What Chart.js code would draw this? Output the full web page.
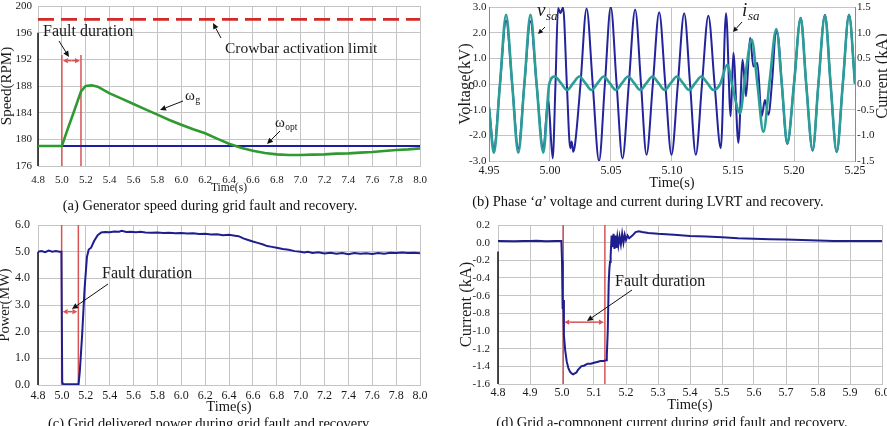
<!DOCTYPE html>
<html><head><meta charset="utf-8">
<script src="https://cdn.jsdelivr.net/npm/chart.js@4.4.1/dist/chart.umd.min.js"></script>
<style>
html,body{margin:0;padding:0;background:#fff;width:887px;height:426px;overflow:hidden;position:relative}
canvas{position:absolute}
.cap{position:absolute;width:560px;text-align:center;font-family:'Liberation Serif','Times New Roman',serif;font-size:14.5px;line-height:16px;color:#111;white-space:nowrap}
</style></head><body>
<canvas id="ca" width="440" height="200" style="left:0;top:0"></canvas>
<canvas id="cb" width="447" height="200" style="left:440px;top:0"></canvas>
<canvas id="cc" width="440" height="216" style="left:0;top:210px"></canvas>
<canvas id="cd" width="447" height="216" style="left:440px;top:210px"></canvas>
<div class="cap" style="left:-70px;top:197px">(a) Generator speed during grid fault and recovery.</div>
<div class="cap" style="left:368px;top:193px">(b) Phase ‘<i>a</i>’ voltage and current during LVRT and recovery.</div>
<div class="cap" style="left:-70px;top:415px">(c) Grid delivered power during grid fault and recovery.</div>
<div class="cap" style="left:392px;top:414px">(d) Grid a-component current during grid fault and recovery.</div>
<script>
// ---------- (a) generator speed ----------
const speedTime = [4.8,5.0,5.05,5.1,5.16,5.2,5.25,5.3,5.4,5.5,5.6,5.7,5.8,5.9,6.0,6.1,6.2,6.3,6.4,6.5,6.6,6.7,6.8,6.9,7.0,7.1,7.2,7.3,7.4,7.5,7.6,7.7,7.8,7.9,8.0];
const speedRPM  = [179,179,181.6,184.1,187.2,188.0,188.1,187.9,186.9,186.1,185.3,184.5,183.7,182.9,182.2,181.5,180.9,180.1,179.35,178.75,178.3,177.95,177.75,177.65,177.65,177.7,177.75,177.85,177.9,178.0,178.1,178.25,178.4,178.5,178.65];
const optTime = [4.8, 8.0];
const optRPM  = [179, 179];
const limitTime = [4.8, 8.0];
const limitRPM  = [198, 198];
const faultA = [5.0, 5.16];
const faultMarkA = [192.65, 191.8];   // top of fault lines, double-arrow level
const speedXTicks = [4.8,5.0,5.2,5.4,5.6,5.8,6.0,6.2,6.4,6.6,6.8,7.0,7.2,7.4,7.6,7.8,8.0];
const speedYTicks = [176,180,184,188,192,196,200];

// ---------- (b) phase a voltage / current ----------
const vTime = [4.950,4.954,4.959,4.964,4.969,4.974,4.979,4.984,4.989,4.9945,4.9994,
  5.004,5.009,5.014,5.019,5.024,5.029,5.034,5.039,5.044,5.049,5.054,5.059,5.064,5.069,5.074,5.079,5.084,5.089,5.094,5.099,5.104,5.109,5.114,5.119,5.124,5.129,5.134,
  5.1395,5.1453,5.150,5.1557,5.160,5.1653,5.170,5.1749,5.180,5.1855,5.190,5.1945,5.200,5.2055,5.210,5.2153,5.220,5.2254,5.230,5.235,5.240,5.2451,5.250];
const vKV = [-0.9,-2.68,0,2.7,0,-2.68,0,2.7,0,-2.68,0,
  0.29,0.03,-0.23,0.03,0.29,0.03,-0.23,0.03,0.29,0.03,-0.23,0.03,0.29,0.03,-0.23,0.03,0.29,0.03,-0.23,0.03,0.29,0.03,-0.23,0.03,0.29,0.03,-0.23,
  0.0,0.75,-0.2,-1.14,0.3,1.73,0,-1.86,0.1,2.14,0,-2.31,0,2.57,0,-2.57,0,2.68,0,-2.64,0,2.7,0];
const iTime = [4.950,4.954,4.959,4.964,4.969,4.974,4.979,4.984,4.989,4.9945,4.9985,5.0022,5.0045,5.0066,5.0085,5.0107,5.0138,5.0166,5.0178,5.0190,5.0205,5.0250,5.0300,5.0350,5.0402,5.0450,5.0498,5.0546,5.0594,5.0646,5.0698,5.0746,5.0791,5.0843,5.0895,5.0945,5.0996,5.1048,5.1100,5.1148,5.1195,5.1246,5.1298,5.1349,5.1400,5.1443,5.1481,5.1503,5.1544,5.1579,5.1607,5.1640,5.1667,5.1700,5.1735,5.1762,5.1790,5.1822,5.1852,5.1872,5.1900,5.1945,5.2000,5.2055,5.2100,5.2153,5.2200,5.2254,5.2300,5.2350,5.2400,5.2451,5.2500];
const iKA = [-0.45,-1.25,0,1.23,0,-1.26,0,1.22,0,-1.27,-0.3,-1.45,0,1.48,1.38,1.49,0,-1.25,-1.12,-1.32,-1.18,0,1.47,0,-1.5,0,1.5,0,-1.45,0,1.45,0,-1.38,0,1.40,0,-1.38,0,1.38,0,-1.38,0,1.33,0,-1.25,1.38,-0.63,0.61,-1.15,0.47,-0.24,0.9,0.34,0.41,-0.63,-0.31,-0.6,0.1,1.03,0.9,0,-1.17,0,1.29,0,-1.3,0,1.35,0,-1.33,0,1.35,0];
const phaseXTicks = [4.95,5.00,5.05,5.10,5.15,5.20,5.25];
const voltTicks = [-3,-2,-1,0,1,2,3];
const currTicks = [-1.5,-1.0,-0.5,0,0.5,1.0,1.5];

// ---------- (c) grid power ----------
const pTime = [4.80,4.83,4.86,4.89,4.92,4.95,4.98,4.996,5.003,5.01,5.05,5.10,5.14,5.15,5.17,5.19,5.21,5.225,5.245,5.27,5.30,5.33,5.36,5.40,5.44,5.48,5.50,5.54,5.58,5.62,5.66,5.70,5.75,5.80,5.85,5.90,5.95,6.00,6.05,6.10,6.15,6.20,6.25,6.30,6.35,6.40,6.45,6.48,6.52,6.56,6.60,6.64,6.68,6.72,6.76,6.80,6.85,6.90,6.95,7.00,7.03,7.06,7.10,7.15,7.20,7.25,7.30,7.35,7.40,7.45,7.50,7.55,7.60,7.65,7.70,7.75,7.80,7.85,7.90,7.95,8.00];
const pMW = [5.00,5.02,4.98,5.04,5.00,5.02,5.00,5.00,0.10,0.04,0.03,0.03,0.04,0.50,1.90,3.60,4.80,5.08,5.15,5.40,5.62,5.72,5.74,5.73,5.76,5.75,5.78,5.74,5.75,5.73,5.75,5.72,5.71,5.72,5.70,5.71,5.69,5.70,5.68,5.69,5.66,5.67,5.64,5.65,5.62,5.63,5.60,5.58,5.50,5.44,5.38,5.33,5.28,5.21,5.18,5.15,5.10,5.07,5.02,5.00,4.97,5.00,4.95,4.98,4.93,4.96,4.92,4.95,4.90,4.95,4.92,4.94,4.91,4.95,4.92,4.96,4.95,4.97,4.95,4.96,4.94];
const faultC = [4.998, 5.138];
const faultMarkC = 2.75;
const powerXTicks = [4.8,5.0,5.2,5.4,5.6,5.8,6.0,6.2,6.4,6.6,6.8,7.0,7.2,7.4,7.6,7.8,8.0];
const powerYTicks = [0,1,2,3,4,5,6];

// ---------- (d) grid a-component current ----------
const cTime = [4.80,4.85,4.88,4.90,4.92,4.95,4.98,4.998,5.000,5.002,5.004,5.006,5.010,5.015,5.020,5.025,5.030,5.035,5.040,5.045,5.050,5.055,5.060,5.070,5.080,5.090,5.100,5.110,5.120,5.130,5.138,5.140,5.143,5.146,5.148,5.150,5.152,5.155,5.158,5.161,5.164,5.167,5.170,5.173,5.176,5.180,5.184,5.188,5.192,5.196,5.200,5.205,5.210,5.220,5.230,5.240,5.250,5.270,5.300,5.350,5.400,5.450,5.500,5.550,5.600,5.650,5.700,5.750,5.800,5.850,5.900,5.950,6.000];
const cKA = [0.02,0.015,0.02,0.018,0.022,0.015,0.02,0.02,-0.2,-0.75,-0.65,-1.05,-1.22,-1.35,-1.42,-1.46,-1.48,-1.49,-1.48,-1.47,-1.44,-1.42,-1.40,-1.39,-1.37,-1.37,-1.36,-1.35,-1.34,-1.34,-1.33,-1.28,-1.0,-0.45,-0.3,-0.22,-0.15,0.08,-0.05,0.1,-0.07,0.08,-0.06,0.06,-0.03,0.07,-0.02,0.1,0.0,0.09,0.03,0.08,0.05,0.08,0.12,0.13,0.12,0.11,0.1,0.09,0.075,0.07,0.06,0.05,0.045,0.04,0.035,0.03,0.025,0.02,0.02,0.018,0.02];
const faultD = [5.004, 5.134];
const faultMarkD = -0.9;
const currXTicks = [4.8,4.9,5.0,5.1,5.2,5.3,5.4,5.5,5.6,5.7,5.8,5.9,6.0];
const currYTicks = [-1.6,-1.4,-1.2,-1.0,-0.8,-0.6,-0.4,-0.2,0,0.2];

// ================= helpers =================
const FONT = "'Liberation Serif','Times New Roman',serif";
const GRID = '#c4c4c4';
const TXT = '#1a1a1a';
const RED = '#d85454';
Chart.defaults.font.family = FONT;

function pts(xs, ys){ return xs.map((x,i)=>({x:x, y:ys[i]})); }
function xScale(o){
  return {
    type:'linear', position:'bottom', min:o.min, max:o.max,
    afterBuildTicks: s=>{ s.ticks = o.ticks.map(v=>({value:v})); },
    afterFit: s=>{ s.height=o.h; s.paddingLeft=0; s.paddingRight=0; s.paddingTop=0; s.paddingBottom=0; },
    ticks:{ autoSkip:false, maxRotation:0, minRotation:0, padding:o.pad, color:TXT,
      font:{family:FONT,size:o.fs}, callback:v=>Number(v).toFixed(o.dec) },
    grid:{ color:GRID, lineWidth:1, drawTicks:false },
    border:{ color:GRID, width:1 },
    title:{ display:true, text:'Time(s)', color:TXT, font:{family:FONT,size:o.ts,lineHeight:1},
      padding:{top:0,bottom:o.tpb} }
  };
}
function yScale(o){
  return {
    type:'linear', position:o.pos||'left', min:o.min, max:o.max,
    afterBuildTicks: s=>{ s.ticks = o.ticks.map(v=>({value:v})); },
    afterFit: s=>{ s.width=o.w; s.paddingLeft=0; s.paddingRight=0; s.paddingTop=0; s.paddingBottom=0; },
    ticks:{ autoSkip:false, padding:o.pad, color:TXT, font:{family:FONT,size:o.fs},
      callback:v=>Number(v).toFixed(o.dec) },
    grid:{ display:o.grid!==false, color:GRID, lineWidth:1, drawTicks:false },
    border:{ color:o.border||GRID, width:1 },
    title:{ display:!!o.title, text:o.title||'', color:TXT, font:{family:FONT,size:o.ts,lineHeight:1},
      padding:{top:o.tpt||0,bottom:0} }
  };
}
function line(data, color, width, extra){
  return Object.assign({ data:data, borderColor:color, borderWidth:width, pointRadius:0,
    fill:false, tension:0 }, extra||{});
}
function arrow(ctx,x1,y1,x2,y2,color,lw,hl,hw){
  const a=Math.atan2(y2-y1,x2-x1);
  const bx=x2-hl*Math.cos(a), by=y2-hl*Math.sin(a);
  ctx.save(); ctx.strokeStyle=color; ctx.fillStyle=color; ctx.lineWidth=lw;
  ctx.beginPath(); ctx.moveTo(x1,y1); ctx.lineTo(bx,by); ctx.stroke();
  ctx.beginPath(); ctx.moveTo(x2,y2);
  ctx.lineTo(bx+hw*Math.sin(a), by-hw*Math.cos(a));
  ctx.lineTo(bx-hw*Math.sin(a), by+hw*Math.cos(a));
  ctx.closePath(); ctx.fill(); ctx.restore();
}
function dblArrow(ctx,x1,x2,y){
  const m=(x1+x2)/2;
  arrow(ctx,m,y,x1+1,y,RED,1.5,5,2.6);
  arrow(ctx,m,y,x2-1,y,RED,1.5,5,2.6);
}
function vline(ctx,x,y1,y2,color,w){
  ctx.save(); ctx.strokeStyle=color; ctx.lineWidth=w;
  ctx.beginPath(); ctx.moveTo(x,y1); ctx.lineTo(x,y2); ctx.stroke(); ctx.restore();
}
function text(ctx,s,x,y,size,style){
  ctx.save(); ctx.fillStyle=TXT; ctx.font=(style||'')+' '+size+'px '+FONT;
  ctx.textBaseline='middle'; ctx.textAlign='left'; ctx.fillText(s,x,y);
  const w=ctx.measureText(s).width; ctx.restore(); return w;
}
function subText(ctx,main,sub,x,y,size,subSize,style,dy){
  const w=text(ctx,main,x,y,size,style);
  text(ctx,sub,x+w+0.5,y+(dy||4),subSize,style);
}
const base = { responsive:false, animation:false, devicePixelRatio:1,
  plugins:{ legend:{display:false}, tooltip:{enabled:false} }, events:[] };

// ================= chart (a) =================
new Chart(document.getElementById('ca'), {
  type:'line',
  data:{ datasets:[
    line(pts(speedTime,speedRPM),'#2f9a2f',2.6),
    line(pts(optTime,optRPM),'#1c1ca6',2),
    line(pts(limitTime,limitRPM),'#d42a2a',2.6,{borderDash:[16,7]})
  ]},
  options:Object.assign({}, base, {
    layout:{ autoPadding:false, padding:{top:6,right:20,left:0,bottom:0} },
    scales:{
      x: xScale({min:4.8,max:8.0,ticks:speedXTicks,dec:1,h:34,pad:8,fs:11,ts:11.5,tpb:6}),
      y: yScale({min:176,max:200,ticks:speedYTicks,dec:0,w:38,pad:6,fs:11,title:'Speed(RPM)',ts:15,tpt:0})
    }
  }),
  plugins:[{ id:'annA',
    beforeDatasetsDraw(ch){
      const {ctx, scales:{x,y}, chartArea:ca} = ch;
      faultA.forEach(t=>vline(ctx,x.getPixelForValue(t),y.getPixelForValue(faultMarkA[0]),y.getPixelForValue(176),RED,1.5));
      vline(ctx,ca.left,y.getPixelForValue(196),ca.bottom,'#111',1.5);
    },
    afterDatasetsDraw(ch){
      const {ctx, scales:{x,y}} = ch;
      dblArrow(ctx,x.getPixelForValue(faultA[0]),x.getPixelForValue(faultA[1]),y.getPixelForValue(faultMarkA[1]));
      text(ctx,'Fault duration',43,32,16);
      arrow(ctx,59,41,69,57,'#111',1,6,2.8);
      text(ctx,'Crowbar activation limit',225,49,15.5);
      arrow(ctx,221,38,213,23,'#111',1,6,2.8);
      subText(ctx,'ω','g',185,96,15,10,'',4);
      arrow(ctx,183,101,160,110,'#111',1,6,2.8);
      subText(ctx,'ω','opt',275,123,15,9.5,'',4);
      arrow(ctx,280,131,267,144,'#111',1,6,2.8);
    }
  }]
});

// ================= chart (b) =================
new Chart(document.getElementById('cb'), {
  type:'line',
  data:{ datasets:[
    line(pts(vTime,vKV),'#2c9e98',2.6,{cubicInterpolationMode:'monotone',yAxisID:'y'}),
    line(pts(iTime,iKA),'#23239c',2,{cubicInterpolationMode:'monotone',yAxisID:'y1'})
  ]},
  options:Object.assign({}, base, {
    layout:{ autoPadding:false, padding:{top:7,right:0,left:0,bottom:0} },
    scales:{
      x: xScale({min:4.95,max:5.25,ticks:phaseXTicks,dec:2,h:39,pad:3,fs:12,ts:14.5,tpb:10}),
      y: yScale({min:-3,max:3,ticks:voltTicks,dec:1,w:49,pad:2.5,fs:11,title:'Voltage(kV)',ts:16.5,tpt:17.5,border:'#8a8a8a'}),
      y1: yScale({pos:'right',min:-1.5,max:1.5,ticks:currTicks,dec:1,w:32,pad:2,fs:11,grid:false,border:'#8a8a8a'})
    }
  }),
  plugins:[{ id:'annB',
    afterDatasetsDraw(ch){
      const {ctx} = ch;
      text(ctx,'v',97,11,19,'italic');
      text(ctx,'sa',106,17,13,'italic');
      arrow(ctx,105,27,98,34,'#111',1,5,2.5);
      text(ctx,'i',302,11,19,'italic');
      text(ctx,'sa',308,17,13,'italic');
      arrow(ctx,302,22,293,32,'#111',1,5,2.5);
      ctx.save(); ctx.translate(443,76); ctx.rotate(-Math.PI/2);
      ctx.fillStyle=TXT; ctx.font='16.5px '+FONT; ctx.textAlign='center'; ctx.textBaseline='middle';
      ctx.fillText('Current (kA)',0,0); ctx.restore();
    }
  }]
});

// ================= chart (c) =================
new Chart(document.getElementById('cc'), {
  type:'line',
  data:{ datasets:[ line(pts(pTime,pMW),'#1e1e8e',2) ]},
  options:Object.assign({}, base, {
    layout:{ autoPadding:false, padding:{top:15,right:20,left:0,bottom:0} },
    scales:{
      x: xScale({min:4.8,max:8.0,ticks:powerXTicks,dec:1,h:41,pad:4,fs:12,ts:14.5,tpb:12}),
      y: yScale({min:0,max:6,ticks:powerYTicks,dec:1,w:38,pad:8,fs:12,title:'Power(MW)',ts:14.5,tpt:-2})
    }
  }),
  plugins:[{ id:'annC',
    beforeDatasetsDraw(ch){
      const {ctx, scales:{x,y}, chartArea:ca} = ch;
      faultC.forEach(t=>vline(ctx,x.getPixelForValue(t),ca.top,ca.bottom,RED,1.5));
      vline(ctx,ca.left,y.getPixelForValue(5.0),ca.bottom,'#111',1.5);
    },
    afterDatasetsDraw(ch){
      const {ctx, scales:{x,y}} = ch;
      dblArrow(ctx,x.getPixelForValue(faultC[0]),x.getPixelForValue(faultC[1]),y.getPixelForValue(faultMarkC));
      text(ctx,'Fault duration',102,64,16);
      arrow(ctx,108,74,72,99,'#111',1,6,2.8);
    }
  }]
});

// ================= chart (d) =================
new Chart(document.getElementById('cd'), {
  type:'line',
  data:{ datasets:[ line(pts(cTime,cKA),'#1e1e8e',2) ]},
  options:Object.assign({}, base, {
    layout:{ autoPadding:false, padding:{top:15,right:5,left:0,bottom:0} },
    scales:{
      x: xScale({min:4.8,max:6.0,ticks:currXTicks,dec:1,h:42,pad:2,fs:12,ts:14.5,tpb:13.5}),
      y: yScale({min:-1.6,max:0.2,ticks:currYTicks,dec:1,w:58,pad:8,fs:11,title:'Current (kA)',ts:16.5,tpt:18.5})
    }
  }),
  plugins:[{ id:'annD',
    beforeDatasetsDraw(ch){
      const {ctx, scales:{x,y}, chartArea:ca} = ch;
      faultD.forEach(t=>vline(ctx,x.getPixelForValue(t),ca.top,ca.bottom,RED,1.5));
      vline(ctx,ca.left,y.getPixelForValue(-0.1),ca.bottom,'#111',1.5);
    },
    afterDatasetsDraw(ch){
      const {ctx, scales:{x,y}} = ch;
      dblArrow(ctx,x.getPixelForValue(faultD[0]),x.getPixelForValue(faultD[1]),y.getPixelForValue(faultMarkD));
      text(ctx,'Fault duration',175,72,16);
      arrow(ctx,192,80,147,111,'#111',1,6,2.8);
    }
  }]
});
</script>
</body></html>
